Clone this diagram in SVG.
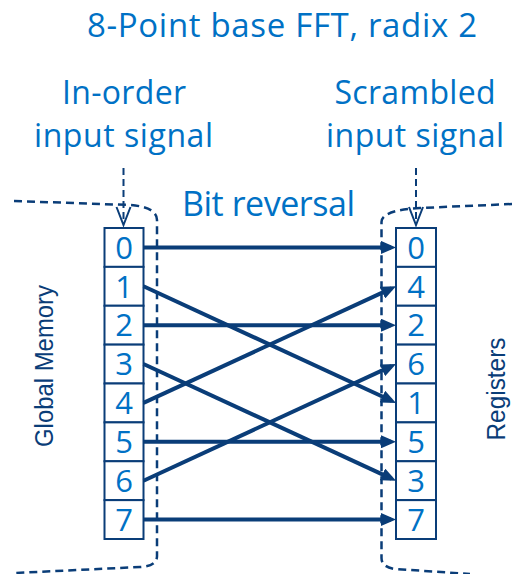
<svg xmlns="http://www.w3.org/2000/svg" width="512" height="574" viewBox="0 0 512 574">
  <style>
    .lbl { font-family: "Open Sans", "Liberation Sans", sans-serif; fill: #0071c5; }
    .side { font-family: "Liberation Sans", Arial, sans-serif; fill: #0a3d78; font-size: 26px; }
    .num { font-family: "Open Sans", "Liberation Sans", sans-serif; fill: #0071c5; font-size: 31px; text-anchor: middle; }
    .cell { fill: #ffffff; stroke: #0a3d78; stroke-width: 2; }
    .region { fill: none; stroke: #0a3d78; stroke-width: 2.5; stroke-dasharray: 8 5; }
    .feed { fill: none; stroke: #0a3d78; stroke-width: 2; stroke-dasharray: 7 4; }
    .feedhead { fill: none; stroke: #0a3d78; stroke-width: 2; }
    .wire { stroke: #0a3d78; stroke-width: 4; fill: none; marker-end: url(#head); }
  </style>
  <defs>
    <marker id="head" markerUnits="userSpaceOnUse" markerWidth="15" markerHeight="13" refX="10" refY="6.5" orient="auto">
      <path d="M0,0 L15,6.5 L0,13 z" fill="#0a3d78"/>
    </marker>
  </defs>

  <rect width="512" height="574" fill="#ffffff"/>

  <!-- headings -->
  <text class="lbl" x="282" y="37" font-size="33" text-anchor="middle" textLength="390">8-Point base FFT, radix 2</text>
  <text class="lbl" x="124" y="104" font-size="32" text-anchor="middle" textLength="124">In-order</text>
  <text class="lbl" x="123.5" y="147" font-size="32" text-anchor="middle" textLength="179">input signal</text>
  <text class="lbl" x="415" y="104" font-size="32" text-anchor="middle" textLength="161">Scrambled</text>
  <text class="lbl" x="415" y="147" font-size="32" text-anchor="middle" textLength="178">input signal</text>
  <text class="lbl" x="268.5" y="216" font-size="34" text-anchor="middle" textLength="173">Bit reversal</text>

  <!-- memory regions -->
  <g id="global-memory">
    <path class="region" d="M14 201 L130 205 Q157 207 157 220 L157 556 Q157 566 140 567 L14 573"/>
    <text class="side" transform="translate(53,366) rotate(-90)" text-anchor="middle" textLength="162" lengthAdjust="spacingAndGlyphs">Global Memory</text>
  </g>
  <g id="registers">
    <path class="region" d="M512 204 L420 208 Q382 210 381.5 222 L381.5 558 Q381.5 567 395 569 L470 574"/>
    <text class="side" transform="translate(505,389) rotate(-90)" text-anchor="middle" textLength="103" lengthAdjust="spacingAndGlyphs">Registers</text>
  </g>

  <!-- input feeds -->
  <g id="feed-in">
    <line class="feed" x1="123.5" y1="168" x2="123.5" y2="224"/>
    <path class="feedhead" d="M116.5 207 L123.5 225 L130.5 207"/>
  </g>
  <g id="feed-scrambled">
    <line class="feed" x1="416" y1="168" x2="416" y2="224"/>
    <path class="feedhead" d="M409 207 L416 225 L423 207"/>
  </g>

  <!-- in-order input array -->
  <g id="input-array">
    <rect class="cell" x="104.5" y="228" width="39" height="38.875"/>
    <rect class="cell" x="104.5" y="266.875" width="39" height="38.875"/>
    <rect class="cell" x="104.5" y="305.75" width="39" height="38.875"/>
    <rect class="cell" x="104.5" y="344.625" width="39" height="38.875"/>
    <rect class="cell" x="104.5" y="383.5" width="39" height="38.875"/>
    <rect class="cell" x="104.5" y="422.375" width="39" height="38.875"/>
    <rect class="cell" x="104.5" y="461.25" width="39" height="38.875"/>
    <rect class="cell" x="104.5" y="500.125" width="39" height="38.875"/>
    <text class="num" x="124" y="258.6">0</text>
    <text class="num" x="124" y="297.5">1</text>
    <text class="num" x="124" y="336.4">2</text>
    <text class="num" x="124" y="375.2">3</text>
    <text class="num" x="124" y="414.1">4</text>
    <text class="num" x="124" y="453">5</text>
    <text class="num" x="124" y="491.9">6</text>
    <text class="num" x="124" y="530.7">7</text>
  </g>

  <!-- bit-reversed register array -->
  <g id="scrambled-array">
    <rect class="cell" x="396" y="228" width="40" height="38.875"/>
    <rect class="cell" x="396" y="266.875" width="40" height="38.875"/>
    <rect class="cell" x="396" y="305.75" width="40" height="38.875"/>
    <rect class="cell" x="396" y="344.625" width="40" height="38.875"/>
    <rect class="cell" x="396" y="383.5" width="40" height="38.875"/>
    <rect class="cell" x="396" y="422.375" width="40" height="38.875"/>
    <rect class="cell" x="396" y="461.25" width="40" height="38.875"/>
    <rect class="cell" x="396" y="500.125" width="40" height="38.875"/>
    <text class="num" x="416" y="258.6">0</text>
    <text class="num" x="416" y="297.5">4</text>
    <text class="num" x="416" y="336.4">2</text>
    <text class="num" x="416" y="375.2">6</text>
    <text class="num" x="416" y="414.1">1</text>
    <text class="num" x="416" y="453">5</text>
    <text class="num" x="416" y="491.9">3</text>
    <text class="num" x="416" y="530.7">7</text>
  </g>

  <!-- bit-reversal permutation -->
  <g id="connectors">
    <line class="wire" x1="143.5" y1="247.4" x2="391" y2="247.4"/>
    <line class="wire" x1="143.5" y1="286.3" x2="391.5" y2="400.8"/>
    <line class="wire" x1="143.5" y1="325.2" x2="391" y2="325.2"/>
    <line class="wire" x1="143.5" y1="364.0" x2="391.5" y2="478.6"/>
    <line class="wire" x1="143.5" y1="402.9" x2="391.5" y2="288.4"/>
    <line class="wire" x1="143.5" y1="441.8" x2="391" y2="441.8"/>
    <line class="wire" x1="143.5" y1="480.7" x2="391.5" y2="366.1"/>
    <line class="wire" x1="143.5" y1="519.5" x2="391" y2="519.5"/>
  </g>
</svg>
